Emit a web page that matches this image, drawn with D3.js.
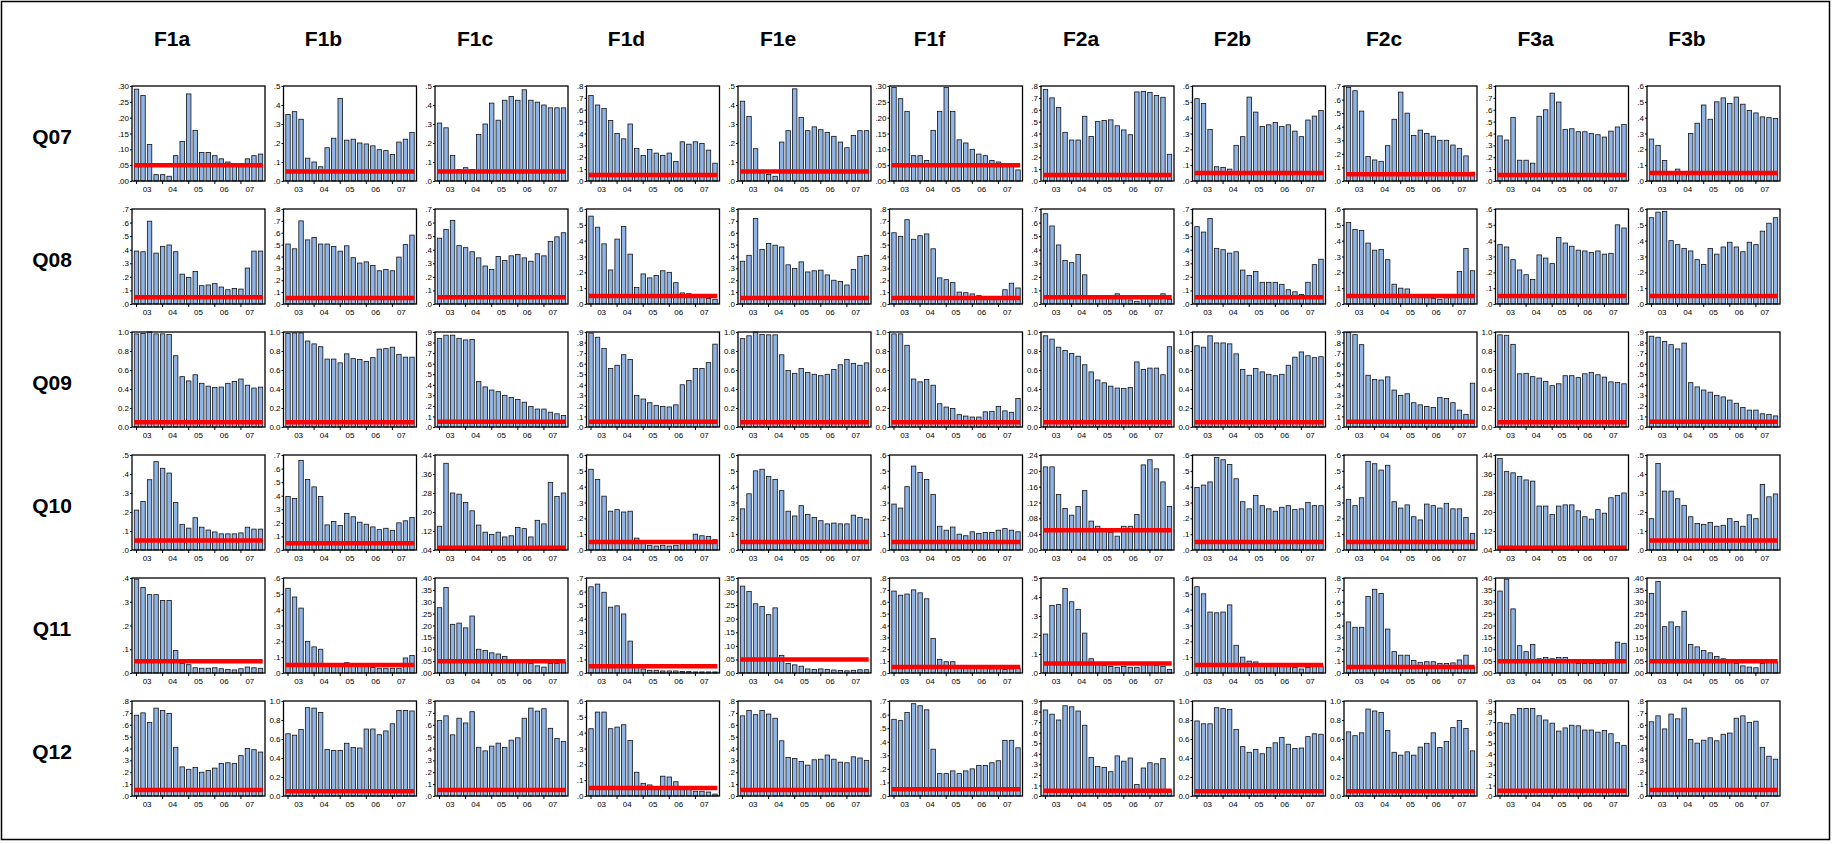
<!DOCTYPE html>
<html>
<head>
<meta charset="utf-8">
<script src="https://cdn.jsdelivr.net/npm/d3@7"></script>
<style>
  body { margin: 0; background: #fff; }
  svg text { font-family: "Liberation Sans", Arial, sans-serif; }
  .head { font-weight: bold; font-size: 21px; }
  .tick text { font-family: "Liberation Sans Narrow", "Liberation Sans", Arial, sans-serif; font-size: 8px; fill: #000; }
</style>
</head>
<body>
<div id="chart"></div>
<script>
// Categories
const rows = ["Q07", "Q08", "Q09", "Q10", "Q11", "Q12"];
const cols = ["F1a", "F1b", "F1c", "F1d", "F1e", "F1f", "F2a", "F2b", "F2c", "F3a", "F3b"];
const years = ["03", "04", "05", "06", "07"];
const refLevel = 0.05;

// y axes per panel: [min, max, step]
const axesQ07 = [[0,.30,.05],[0,.5,.1],[0,.5,.1],[0,.8,.1],[0,.5,.1],[0,.30,.05],[0,.8,.1],[0,.6,.1],[0,.7,.1],[0,.8,.1],[0,.6,.1]];
const axesQ08 = [[0,.7,.1],[0,.8,.1],[0,.7,.1],[0,.6,.1],[0,.8,.1],[0,.8,.1],[0,.7,.1],[0,.7,.1],[0,.6,.1],[0,.6,.1],[0,.6,.1]];
const axesQ09 = [[0,1,.2],[0,1,.2],[0,.9,.1],[0,.9,.1],[0,1,.2],[0,1,.2],[0,1,.2],[0,1,.2],[0,.9,.1],[0,1,.2],[0,.9,.1]];
const axesQ10 = [[0,.5,.1],[0,.7,.1],[.04,.44,.08],[0,.6,.1],[0,.6,.1],[0,.6,.1],[0,.24,.04],[0,.6,.1],[0,.6,.1],[.04,.44,.08],[0,.5,.1]];
const axesQ11 = [[0,.4,.1],[0,.6,.1],[0,.40,.05],[0,.7,.1],[0,.35,.05],[0,.8,.1],[0,.5,.1],[0,.6,.1],[0,.8,.1],[0,.40,.05],[0,.40,.05]];
const axesQ12 = [[0,.8,.1],[0,1,.2],[0,.8,.1],[0,.6,.1],[0,.8,.1],[0,.7,.1],[0,.9,.1],[0,1,.2],[0,1,.2],[0,.9,.1],[0,.8,.1]];

// Quarterly values, 2003Q1 - 2007Q4, one array per column
const q07 = [
  [.29,.27,.115,.02,.02,.015,.08,.125,.275,.16,.09,.09,.08,.07,.06,.055,.055,.07,.08,.085],
  [.35,.365,.325,.12,.10,.075,.175,.225,.435,.215,.22,.20,.195,.185,.165,.16,.14,.205,.22,.255],
  [.305,.28,.135,.06,.07,.06,.245,.30,.41,.32,.425,.445,.425,.48,.425,.415,.40,.385,.385,.385],
  [.72,.64,.61,.51,.40,.355,.48,.275,.215,.265,.235,.215,.235,.165,.33,.31,.33,.315,.26,.15],
  [.42,.34,.17,.055,.035,.025,.205,.265,.485,.335,.265,.285,.27,.255,.235,.205,.175,.24,.265,.265],
  [.295,.26,.22,.08,.08,.065,.16,.22,.295,.22,.13,.12,.10,.085,.08,.065,.06,.055,.05,.035],
  [.77,.70,.62,.41,.345,.345,.545,.375,.50,.51,.515,.465,.43,.39,.75,.755,.745,.72,.705,.225],
  [.52,.49,.325,.09,.085,.075,.225,.28,.53,.435,.345,.355,.37,.345,.355,.315,.28,.385,.41,.445],
  [.69,.665,.515,.18,.155,.145,.26,.455,.655,.50,.335,.375,.35,.33,.30,.30,.265,.24,.185,.065],
  [.38,.345,.535,.175,.175,.15,.545,.60,.74,.665,.435,.44,.415,.415,.40,.39,.37,.42,.455,.475],
  [.265,.225,.13,.05,.075,.055,.30,.365,.48,.39,.50,.525,.49,.53,.485,.445,.43,.405,.40,.395]
];
const q08 = [
  [.39,.385,.61,.375,.425,.435,.385,.22,.195,.24,.135,.14,.15,.125,.105,.115,.11,.265,.39,.39],
  [.505,.465,.70,.54,.56,.505,.505,.485,.445,.49,.39,.345,.355,.325,.28,.29,.28,.395,.50,.58],
  [.485,.55,.615,.43,.415,.385,.34,.28,.255,.35,.32,.355,.365,.34,.315,.37,.355,.46,.495,.525],
  [.555,.485,.38,.215,.41,.49,.315,.105,.19,.165,.18,.21,.20,.135,.07,.065,.055,.05,.035,.03],
  [.36,.41,.72,.46,.51,.495,.48,.33,.30,.355,.27,.28,.285,.245,.20,.19,.16,.29,.40,.41],
  [.60,.57,.71,.545,.575,.59,.465,.22,.205,.18,.10,.095,.085,.07,.055,.05,.045,.12,.175,.135],
  [.665,.575,.435,.32,.305,.365,.215,.045,.04,.04,.045,.075,.05,.03,.02,.045,.05,.055,.075,.035],
  [.57,.53,.63,.41,.40,.375,.385,.25,.21,.24,.16,.16,.16,.145,.105,.09,.07,.16,.29,.33],
  [.515,.47,.465,.385,.34,.345,.28,.125,.10,.095,.05,.045,.04,.035,.03,.04,.045,.205,.35,.21],
  [.375,.36,.28,.215,.185,.155,.31,.29,.255,.42,.385,.365,.34,.335,.325,.335,.315,.32,.50,.48],
  [.545,.58,.585,.40,.375,.35,.335,.28,.25,.35,.315,.36,.39,.36,.33,.39,.375,.46,.51,.545]
];
const q09 = [
  [.98,.985,1.0,.98,.98,.975,.75,.53,.485,.55,.46,.43,.415,.42,.46,.48,.505,.44,.41,.42],
  [.985,.99,.99,.905,.875,.845,.715,.715,.675,.77,.72,.71,.69,.73,.82,.825,.84,.765,.735,.735],
  [.84,.87,.87,.84,.825,.83,.43,.38,.35,.335,.30,.28,.26,.235,.195,.17,.17,.14,.125,.11],
  [.89,.85,.745,.555,.585,.685,.64,.30,.265,.23,.205,.195,.19,.21,.40,.44,.555,.555,.61,.785],
  [.93,.96,1.0,.975,.97,.97,.76,.595,.565,.615,.575,.555,.54,.555,.605,.655,.71,.67,.65,.675],
  [.98,.98,.86,.505,.475,.50,.44,.245,.21,.195,.13,.115,.105,.105,.16,.165,.215,.17,.155,.30],
  [.96,.925,.84,.805,.775,.745,.655,.58,.495,.465,.43,.41,.405,.415,.685,.605,.62,.62,.55,.845],
  [.855,.84,.96,.885,.885,.875,.77,.605,.545,.615,.58,.555,.54,.555,.65,.735,.79,.75,.73,.74],
  [.895,.875,.78,.49,.45,.445,.475,.35,.30,.315,.23,.21,.195,.185,.28,.27,.23,.16,.12,.415],
  [.97,.965,.87,.56,.565,.53,.515,.48,.435,.455,.54,.54,.52,.56,.575,.55,.525,.475,.47,.455],
  [.86,.85,.81,.78,.74,.795,.42,.38,.35,.33,.30,.285,.255,.225,.185,.16,.16,.125,.12,.105]
];
const q10 = [
  [.21,.255,.37,.465,.43,.405,.25,.135,.115,.17,.12,.105,.095,.085,.085,.085,.09,.12,.11,.11],
  [.395,.38,.66,.52,.465,.395,.185,.21,.18,.27,.245,.205,.19,.17,.15,.16,.145,.20,.215,.24],
  [.14,.405,.28,.275,.24,.205,.145,.115,.105,.115,.095,.10,.135,.13,.095,.165,.15,.325,.265,.28],
  [.51,.445,.34,.245,.255,.24,.245,.075,.045,.03,.025,.03,.025,.03,.04,.045,.10,.09,.085,.065],
  [.26,.355,.50,.51,.465,.445,.375,.245,.215,.28,.225,.205,.185,.165,.17,.165,.165,.22,.205,.195],
  [.29,.265,.40,.53,.49,.445,.35,.15,.125,.145,.10,.09,.115,.105,.11,.11,.125,.135,.125,.115],
  [.21,.21,.14,.105,.088,.11,.15,.073,.06,.05,.045,.035,.06,.06,.09,.215,.228,.205,.172,.11],
  [.395,.41,.43,.585,.57,.54,.45,.305,.26,.345,.28,.26,.245,.27,.28,.255,.26,.30,.28,.28],
  [.32,.28,.33,.56,.545,.505,.535,.305,.265,.285,.21,.19,.29,.28,.265,.295,.26,.26,.205,.105],
  [.425,.37,.365,.35,.335,.33,.225,.225,.19,.225,.23,.23,.205,.18,.17,.21,.195,.26,.27,.28],
  [.165,.455,.31,.31,.27,.235,.175,.14,.135,.145,.125,.13,.165,.15,.125,.185,.165,.345,.28,.295]
];
const q11 = [
  [.395,.36,.33,.33,.305,.305,.095,.04,.035,.022,.02,.02,.022,.018,.015,.013,.018,.025,.022,.02],
  [.535,.48,.41,.20,.165,.15,.05,.045,.045,.065,.045,.04,.04,.035,.03,.03,.03,.03,.095,.11],
  [.275,.36,.205,.21,.19,.24,.10,.095,.085,.08,.07,.055,.05,.045,.04,.03,.025,.04,.04,.045],
  [.635,.655,.595,.485,.495,.435,.235,.04,.03,.02,.02,.015,.015,.015,.012,.01,.008,.008,.008,.008],
  [.32,.30,.255,.245,.215,.24,.065,.035,.03,.025,.015,.013,.015,.013,.011,.009,.008,.01,.012,.012],
  [.69,.655,.665,.70,.675,.625,.29,.115,.095,.095,.05,.045,.045,.04,.04,.035,.035,.03,.035,.04],
  [.205,.355,.36,.445,.375,.335,.21,.075,.045,.04,.035,.03,.035,.03,.03,.045,.045,.04,.035,.018],
  [.545,.50,.385,.38,.385,.43,.175,.10,.075,.07,.06,.05,.045,.04,.04,.035,.025,.035,.04,.04],
  [.43,.385,.385,.645,.705,.67,.37,.18,.15,.15,.105,.09,.095,.095,.08,.08,.085,.11,.15,.05],
  [.345,.395,.27,.115,.09,.12,.06,.065,.06,.065,.065,.045,.04,.04,.04,.04,.04,.045,.13,.125],
  [.335,.385,.195,.215,.195,.26,.12,.11,.095,.085,.07,.06,.05,.04,.03,.025,.022,.04,.045,.045]
];
const q12 = [
  [.68,.70,.62,.74,.72,.695,.41,.245,.225,.24,.20,.215,.235,.275,.28,.275,.34,.40,.39,.37],
  [.655,.64,.70,.93,.925,.88,.49,.48,.48,.555,.51,.505,.705,.705,.645,.685,.76,.90,.90,.895],
  [.635,.675,.515,.655,.615,.71,.41,.38,.42,.445,.41,.47,.49,.655,.74,.715,.735,.57,.485,.46],
  [.425,.53,.53,.425,.435,.45,.35,.15,.08,.07,.055,.125,.12,.09,.04,.05,.03,.03,.025,.012],
  [.675,.72,.685,.72,.69,.655,.465,.325,.315,.29,.26,.305,.31,.345,.31,.285,.28,.33,.32,.30],
  [.565,.555,.615,.68,.665,.635,.345,.165,.165,.185,.165,.185,.20,.225,.225,.245,.26,.41,.41,.355],
  [.815,.775,.72,.855,.845,.805,.67,.365,.28,.27,.23,.38,.33,.36,.11,.265,.315,.305,.355,.05],
  [.79,.76,.76,.93,.92,.91,.70,.52,.46,.49,.445,.51,.56,.615,.545,.50,.505,.625,.655,.65],
  [.675,.635,.665,.915,.895,.88,.69,.46,.43,.465,.43,.515,.555,.665,.51,.575,.72,.795,.71,.475],
  [.695,.69,.77,.83,.83,.83,.76,.72,.69,.615,.645,.67,.665,.625,.625,.605,.62,.59,.505,.48],
  [.625,.675,.565,.69,.65,.74,.475,.445,.47,.49,.465,.52,.53,.655,.675,.62,.63,.41,.335,.31]
];

const rowValues = [q07, q08, q09, q10, q11, q12];
const rowAxes = [axesQ07, axesQ08, axesQ09, axesQ10, axesQ11, axesQ12];

(function() {
  // Layout
  const width = 1832, height = 844;
  const panelW = 133, panelH = 95;
  const colX0 = 132, colStep = 151.5;
  const rowY0 = 86, rowStep = 123;

  const svg = d3.select("#chart").append("svg")
    .attr("width", width)
    .attr("height", height);

  // Outer frame
  svg.append("rect")
    .attr("x", 1.5).attr("y", 1.5)
    .attr("width", width - 4).attr("height", height - 6)
    .attr("fill", "none").attr("stroke", "#000").attr("stroke-width", 1.5);

  // Column headers
  svg.append("g").selectAll("text")
    .data(cols)
    .enter().append("text")
      .attr("class", "head")
      .attr("x", (d, i) => colX0 + i * colStep + 40)
      .attr("y", 39)
      .attr("dy", "0.35em")
      .style("text-anchor", "middle")
      .text(d => d);

  // Row headers
  svg.append("g").selectAll("text")
    .data(rows)
    .enter().append("text")
      .attr("class", "head")
      .attr("x", 52)
      .attr("y", (d, i) => rowY0 + i * rowStep + 51)
      .attr("dy", "0.35em")
      .style("text-anchor", "middle")
      .text(d => d);

  // Shared x scales
  const quarters = d3.range(20);
  const x = d3.scaleBand()
    .domain(quarters)
    .range([1.5, panelW - 1.5])
    .paddingInner(0.32)
    .paddingOuter(0.12);
  const bw = x.bandwidth();
  const yearScale = d3.scaleBand()
    .domain(years)
    .range([x(0), x(19) + bw]);

  rows.forEach((rowName, r) => {
    cols.forEach((colName, c) => {
      const values = rowValues[r][c];
      const [yMin, yMax, yStep] = rowAxes[r][c];
      const nTicks = Math.round((yMax - yMin) / yStep);
      const ticks = d3.range(nTicks + 1).map(k => +(yMin + k * yStep).toFixed(3));
      const dec = yStep < 0.099 ? 2 : 1;
      const fmt = v => {
        const s = d3.format(`.${dec}f`)(v);
        return yMax >= 1 ? s : s.replace(/^0\./, ".");
      };

      const y = d3.scaleLinear()
        .domain([yMin, yMax])
        .range([panelH, 0]);

      const g = svg.append("g")
        .attr("transform", `translate(${colX0 + c * colStep}, ${rowY0 + r * rowStep})`);

      // Bars
      g.append("g")
        .selectAll("rect")
        .data(values)
        .enter().append("rect")
          .attr("x", (d, i) => x(i))
          .attr("y", d => y(d))
          .attr("width", bw)
          .attr("height", d => panelH - y(d))
          .attr("fill", "#8fb4e8")
          .attr("stroke", "#111")
          .attr("stroke-width", 0.8);

      // Reference line
      g.append("line")
        .attr("x1", x(0))
        .attr("x2", x(19) + bw)
        .attr("y1", y(refLevel))
        .attr("y2", y(refLevel))
        .attr("stroke", "#ff0000")
        .attr("stroke-width", 4.5);

      // Panel frame
      g.append("rect")
        .attr("width", panelW)
        .attr("height", panelH)
        .attr("fill", "none")
        .attr("stroke", "#000")
        .attr("stroke-width", 1.3);

      // Y axis
      const yAxis = g.append("g")
        .call(d3.axisLeft(y)
          .tickValues(ticks)
          .tickSize(2)
          .tickPadding(1)
          .tickFormat(fmt));
      yAxis.select(".domain").remove();

      // X axis: ticks at first quarter of each year, labels centred on years
      const xTicks = g.append("g")
        .attr("transform", `translate(0, ${panelH})`)
        .call(d3.axisBottom(x)
          .tickValues([0, 4, 8, 12, 16])
          .tickSize(3)
          .tickFormat(""));
      xTicks.select(".domain").remove();

      const xLabels = g.append("g")
        .attr("transform", `translate(0, ${panelH})`)
        .call(d3.axisBottom(yearScale)
          .tickSize(0)
          .tickPadding(5));
      xLabels.select(".domain").remove();
    });
  });
})();
</script>
</body>
</html>
